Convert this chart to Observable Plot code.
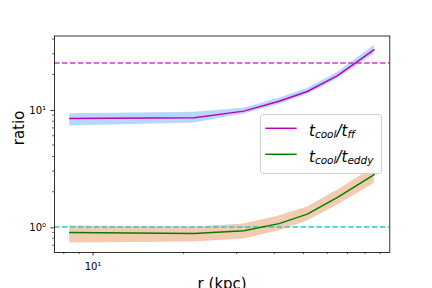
<!DOCTYPE html>
<html>
<head>
<meta charset="utf-8">
<script src="https://cdn.jsdelivr.net/npm/d3@7"></script>
<script src="https://cdn.jsdelivr.net/npm/@observablehq/plot@0.6"></script>
<style>
  html, body { margin: 0; padding: 0; background: #fff; }
  #wrap { position: relative; width: 432px; height: 288px; overflow: hidden; }
  #legend { position: absolute; left: 0; top: 0; }
</style>
</head>
<body>
<div id="wrap"></div>
<script>
// ---- data ----
const radius   = [8.37, 21.7, 31.7, 41.5, 51.5, 64.9, 85.9];
const ffRatio  = [8.40, 8.55, 9.73, 11.8, 14.3, 19.5, 32.5];
const ffLow    = [7.25, 7.70, 9.20, 11.1, 13.5, 18.3, 29.9];
const ffHigh   = [9.24, 9.50, 10.3, 12.5, 15.2, 20.8, 35.2];
const eddyRatio = [0.90, 0.883, 0.93, 1.07, 1.29, 1.79, 2.80];
const eddyLow   = [0.73, 0.745, 0.79, 0.925, 1.125, 1.54, 2.35];
const eddyHigh  = [1.02, 1.00, 1.06, 1.24, 1.48, 2.06, 3.25];
const ffThreshold = 25;
const eddyThreshold = 1;
const xMajorTicks = [10];
const xMinorTicks = [8, 9, 20, 30, 40, 50, 60, 70, 80, 90];
const yMajorTicks = [1, 10];
const yMinorTicks = [0.7, 0.8, 0.9, 2, 3, 4, 5, 6, 7, 8, 9, 20, 30, 40];
const tickLabels = {1: "10⁰", 10: "10¹"};
const xLabel = "r (kpc)";
const yLabel = "ratio";
const seriesNames = [["t", "cool", "t", "ff"], ["t", "cool", "t", "eddy"]];

const rows = radius.map((r, i) => ({
  r, ff: ffRatio[i], ffLo: ffLow[i], ffHi: ffHigh[i],
  ed: eddyRatio[i], edLo: eddyLow[i], edHi: eddyHigh[i]
}));

const magenta = "#bf00bf", green = "#008000";
const dash = "5.55,2.4";

const chart = Plot.plot({
  width: 432,
  height: 288,
  marginLeft: 54,
  marginRight: 42.7,
  marginTop: 35.5,
  marginBottom: 36,
  style: { fontFamily: "DejaVu Sans", fontSize: "10px", color: "#000", background: "#fff" },
  x: { type: "log", domain: [7.45, 96.8] },
  y: { type: "log", domain: [0.607, 42.5] },
  marks: [
    Plot.areaY(rows, { x: "r", y1: "ffLo", y2: "ffHi", fill: "#b5d8fc" }),
    Plot.areaY(rows, { x: "r", y1: "edLo", y2: "edHi", fill: "#f3cbb0" }),
    Plot.ruleY([ffThreshold], { stroke: "#c93cc9", strokeWidth: 1.5, strokeDasharray: dash }),
    Plot.ruleY([eddyThreshold], { stroke: "#30c8c8", strokeWidth: 1.5, strokeDasharray: dash }),
    Plot.line(rows, { x: "r", y: "ff", stroke: magenta, strokeWidth: 1.5 }),
    Plot.line(rows, { x: "r", y: "ed", stroke: green, strokeWidth: 1.5 }),
    Plot.axisX({ ticks: xMinorTicks, tickSize: 2, strokeWidth: 0.6, tickFormat: () => "", label: null }),
    Plot.axisX({ ticks: xMajorTicks, tickSize: 3.5, strokeWidth: 0.8, tickPadding: 7, tickFormat: d => tickLabels[d], label: null, fontSize: 10 }),
    Plot.axisY({ ticks: yMinorTicks, tickSize: 2, strokeWidth: 0.6, tickFormat: () => "", label: null }),
    Plot.axisY({ ticks: yMajorTicks, tickSize: 3.5, strokeWidth: 0.8, tickPadding: 5, dy: 0.8, tickFormat: d => tickLabels[d], label: null, fontSize: 10 }),
    Plot.frame({ stroke: "#000", strokeWidth: 0.8 }),
    Plot.text([xLabel], { text: d => d, frameAnchor: "bottom", dy: 36.5, lineAnchor: "bottom", fontSize: 15, fill: "#000" }),
    Plot.text([yLabel], { text: d => d, frameAnchor: "left", rotate: -90, dx: -31, dy: 1, lineAnchor: "bottom", fontSize: 15, fill: "#000" })
  ]
});
document.getElementById("wrap").appendChild(chart);

// ---- legend overlay ----
const ns = "http://www.w3.org/2000/svg";
const leg = d3.select("#wrap").append("svg")
  .attr("id", "legend").attr("width", 432).attr("height", 288)
  .style("font-family", "DejaVu Sans");
leg.append("rect").attr("x", 260.5).attr("y", 114.5).attr("width", 121).attr("height", 59)
  .attr("rx", 2.5).attr("fill", "#fff").attr("fill-opacity", 0.8)
  .attr("stroke", "#d0d0d0").attr("stroke-width", 1);
const colors = [magenta, green];
const rowY = [128.3, 154.3];
seriesNames.forEach((parts, i) => {
  leg.append("line").attr("x1", 265.3).attr("x2", 296.7).attr("y1", rowY[i]).attr("y2", rowY[i])
    .attr("stroke", colors[i]).attr("stroke-width", 1.5);
  const t = leg.append("text").attr("x", 309).attr("y", rowY[i] + 7.7)
    .attr("font-size", 15).attr("font-style", "italic").attr("fill", "#000");
  t.append("tspan").text(parts[0]);
  t.append("tspan").attr("font-size", 10.5).attr("dy", 2.4).text(parts[1]);
  t.append("tspan").attr("font-size", 15).attr("dy", -2.4).text("/");
  t.append("tspan").text(parts[2]);
  t.append("tspan").attr("font-size", 10.5).attr("dy", 2.4).text(parts[3]);
});
</script>
</body>
</html>
